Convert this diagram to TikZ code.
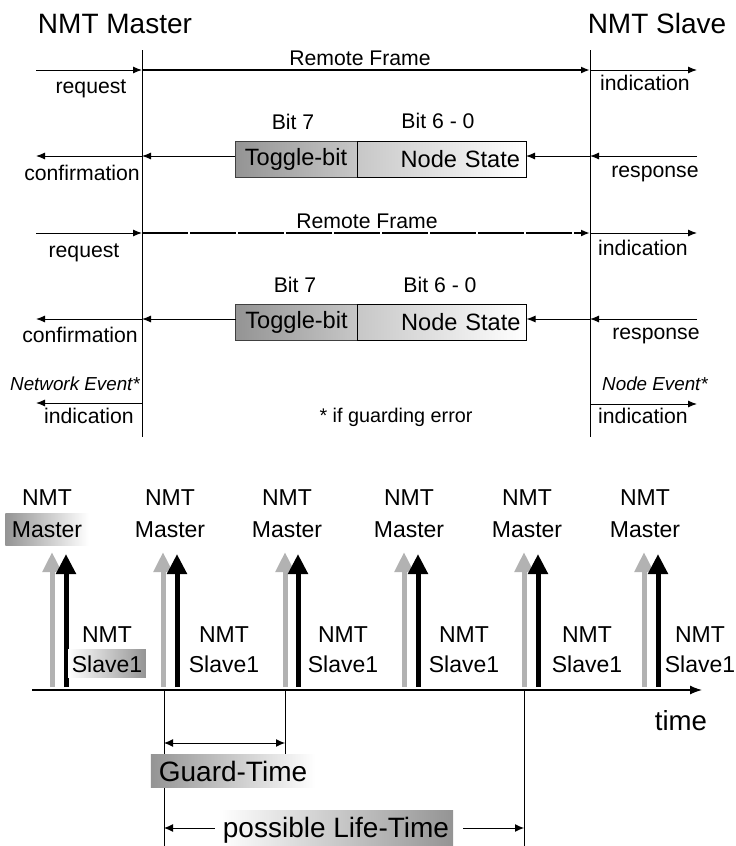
\documentclass[tikz,border=0pt]{standalone}
\usepackage{fontspec}
\setmainfont{Liberation Sans}
\usetikzlibrary{arrows.meta, positioning}

\begin{document}
\begin{tikzpicture}[
    x=0.5pt, y=-0.5pt,
    title/.style={anchor=base, inner sep=0pt, font=\fontsize{14}{16}\selectfont},
    lbl/.style={anchor=base, inner sep=0pt, font=\fontsize{10.6}{12}\selectfont},
    evt/.style={anchor=base, inner sep=0pt, font=\fontsize{9.4}{11}\selectfont\itshape},
    note/.style={anchor=base, inner sep=0pt, font=\fontsize{9.9}{11}\selectfont},
    msg/.style={-{Latex[length=4.5pt, width=3.5pt]}, line width=0.5pt},
    frame/.style={msg, line width=1pt},
    tgl/.style={draw=black!75, line width=0.5pt, outer sep=0pt, left color=black!42, right color=black!22,
        minimum width=61pt, minimum height=17.75pt, inner sep=0pt, font=\fontsize{11.8}{13}\selectfont},
    nst/.style={draw, line width=0.5pt, outer sep=0pt, left color=black!22, right color=white,
        text width=78.5pt, align=right, inner xsep=3pt, inner ysep=0pt, minimum height=17.75pt,
        font=\fontsize{11.8}{13}\selectfont},
    garrow/.style={-{Triangle[length=10pt, width=9pt]}, line width=2.5pt, draw=black!30},
    barrow/.style={-{Triangle[length=10pt, width=9.5pt]}, line width=2.5pt, draw=black},
    tl/.style={anchor=base, inner sep=0pt, font=\fontsize{11.5}{13}\selectfont},
    plain/.style={},
    mshade/.style={left color=black!42, right color=white, inner xsep=3.2pt, inner ysep=4pt},
    sshade/.style={left color=white, right color=black!42, inner xsep=1.8pt, inner ysep=2.8pt},
    big/.style={anchor=base, font=\fontsize{14}{16}\selectfont},
    dim/.style={{Latex[length=4.5pt, width=4pt]}-{Latex[length=4.5pt, width=4pt]}, line width=0.5pt},
    dimr/.style={-{Latex[length=4.5pt, width=4pt]}, line width=0.5pt}
]
\useasboundingbox (0,0) rectangle (735,846);

% Master / Slave
\node[title] (master) at (115,33) {NMT Master};
\node[title] (slave) at (657,33) {NMT Slave};
\coordinate (mt) at (142,50); \coordinate (mb) at (142,437);
\coordinate (st) at (590,50); \coordinate (sb) at (590,437);
\draw[line width=0.5pt] (mt) -- (mb);
\draw[line width=0.5pt] (st) -- (sb);

% Remote Frame 1
\coordinate (rq1) at (36,70); \coordinate (m1) at (142,70);
\coordinate (s1) at (590,70); \coordinate (id1) at (697,70);
\draw[msg] (rq1) -- (m1);
\draw[frame] (m1) -- (s1);
\draw[msg] (s1) -- (id1);
\node[lbl] (rf1) at (360,65) {Remote Frame};
\node[lbl] (req1) at (91,93) {request};
\node[lbl] (ind1) at (645,90) {indication};

% Response 1
\node[tgl] (tgl1) at (296,159.5) {Toggle-bit};
\node[nst, right=0pt of tgl1] (nst1) {Node State};
\node[lbl] (bit71) at (293,129) {Bit 7};
\node[lbl] (bit61) at (438,128) {Bit 6 - 0};
\coordinate (rs1) at (697,156); \coordinate (s2) at (590,156);
\coordinate (m2) at (142,156); \coordinate (cf1) at (36,156);
\draw[msg] (rs1) -- (s2);
\draw[msg] (s2) -- (nst1.east |- s2);
\draw[msg] (tgl1.west |- m2) -- (m2);
\draw[msg] (m2) -- (cf1);
\node[lbl] (conf1) at (82,180) {confirmation};
\node[lbl] (resp1) at (655,177) {response};

% Remote Frame 2
\coordinate (rq2) at (36,233); \coordinate (m3) at (142,233);
\coordinate (s3) at (590,233); \coordinate (id2) at (697,233);
\draw[msg] (rq2) -- (m3);
\draw[frame, dash pattern=on 23pt off 1pt] (m3) -- (s3);
\draw[msg] (s3) -- (id2);
\node[lbl] (rf2) at (367,228) {Remote Frame};
\node[lbl] (req2) at (84,257) {request};
\node[lbl] (ind2) at (643,255) {indication};

% Response 2
\node[tgl] (tgl2) at (296.5,322.5) {Toggle-bit};
\node[nst, right=0pt of tgl2] (nst2) {Node State};
\node[lbl] (bit72) at (295,292) {Bit 7};
\node[lbl] (bit62) at (440,292) {Bit 6 - 0};
\coordinate (rs2) at (697,319); \coordinate (s4) at (590,319);
\coordinate (m4) at (142,319); \coordinate (cf2) at (36,319);
\draw[msg] (rs2) -- (s4);
\draw[msg] (s4) -- (nst2.east |- s4);
\draw[msg] (tgl2.west |- m4) -- (m4);
\draw[msg] (m4) -- (cf2);
\node[lbl] (conf2) at (80,342) {confirmation};
\node[lbl] (resp2) at (656,339) {response};

% Guarding error
\coordinate (m5) at (142,403); \coordinate (ne) at (36,403);
\coordinate (s5) at (590,404); \coordinate (de) at (697,404);
\draw[msg] (m5) -- (ne);
\draw[msg] (s5) -- (de);
\node[evt] (netev) at (75,390) {Network Event*};
\node[evt] (nodev) at (655,390) {Node Event*};
\node[lbl] (ind3) at (89,423) {indication};
\node[lbl] (ind4) at (643,423) {indication};
\node[note] (err) at (396,422) {* if guarding error};

% Zeitachse
\coordinate (ax0) at (32,690); \coordinate (ax1) at (702,690);
\draw[-{Latex[length=6pt, width=4.5pt]}, line width=0.6pt] (ax0) -- (ax1);
\node[anchor=base, inner sep=0pt, font=\fontsize{13.8}{15}\selectfont] (time) at (681,730) {time};

\foreach \g/\b/\m/\s/\ms/\ss [count=\i] in {52/66/47/107/mshade/sshade, 163/177/170/224/plain/plain,
    285/298/287/343/plain/plain, 404/418/409/464/plain/plain, 524/538/527/587/plain/plain,
    644/658/645/700/plain/plain}
{
  \coordinate (ga\i) at (\g,687); \coordinate (gb\i) at (\g,552);
  \coordinate (ba\i) at (\b,687); \coordinate (bb\i) at (\b,554);
  \draw[garrow] (ga\i) -- (gb\i);
  \draw[barrow] (ba\i) -- (bb\i);
  \node[tl] (nmtm\i) at (\m,505) {NMT};
  \node[tl,\ms] (mst\i) at (\m,537) {Master};
  \node[tl] (nmts\i) at (\s,642) {NMT};
  \node[tl,\ss] (slv\i) at (\s,672) {Slave1};
}

% Guard-Time / Life-Time
\coordinate (v1t) at (164,690); \coordinate (v1b) at (164,846);
\coordinate (v2t) at (285,690); \coordinate (v2b) at (285,757);
\coordinate (v3t) at (524,690); \coordinate (v3b) at (524,846);
\draw[line width=0.5pt] (v1t) -- (v1b);
\draw[line width=0.5pt] (v2t) -- (v2b);
\draw[line width=0.5pt] (v3t) -- (v3b);
\coordinate (ga) at (164,743); \coordinate (gb) at (285,743);
\draw[dim] (ga) -- (gb);
\node[big, left color=black!42, right color=white, inner xsep=4pt, inner ysep=3pt] (guard) at (233,781) {Guard-Time};
\node[big, left color=white, right color=black!42, inner xsep=2pt, inner ysep=3pt] (life) at (336,837) {possible Life-Time};
\coordinate (la) at (164,828); \coordinate (lb) at (524,828);
\draw[dimr, shorten <=2pt] (life.west |- la) -- (la);
\draw[dimr, shorten <=5pt] (life.east |- lb) -- (lb);

\end{tikzpicture}
\end{document}
